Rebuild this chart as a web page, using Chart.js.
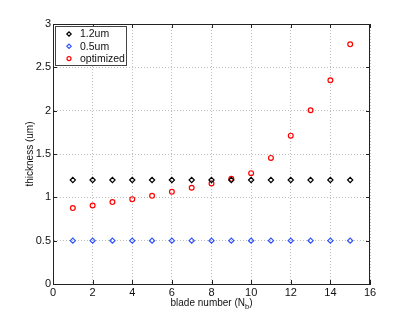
<!DOCTYPE html>
<html>
<head>
<meta charset="utf-8">
<script src="https://cdn.jsdelivr.net/npm/chart.js@4.4.0/dist/chart.umd.min.js"></script>
<style>
  html, body { margin: 0; padding: 0; background: #fff; }
  #wrap { width: 409px; height: 320px; }
</style>
</head>
<body>
<div id="wrap"><canvas id="c"></canvas></div>
<script>
// ---- data ----
const blades    = [1, 2, 3, 4, 5, 6, 7, 8, 9, 10, 11, 12, 13, 14, 15];
const thick12   = [1.2, 1.2, 1.2, 1.2, 1.2, 1.2, 1.2, 1.2, 1.2, 1.2, 1.2, 1.2, 1.2, 1.2, 1.2];
const thick05   = [0.5, 0.5, 0.5, 0.5, 0.5, 0.5, 0.5, 0.5, 0.5, 0.5, 0.5, 0.5, 0.5, 0.5, 0.5];
const optimized = [0.876, 0.906, 0.945, 0.979, 1.017, 1.063, 1.11, 1.16, 1.213, 1.279, 1.455, 1.712, 2.005, 2.35, 2.765];
const xTicks    = [0, 2, 4, 6, 8, 10, 12, 14, 16];
const yTicks    = [0, 0.5, 1, 1.5, 2, 2.5, 3];
const seriesNames = ['1.2um', '0.5um', 'optimized'];

const FONT = 'Liberation Sans, Arial, Helvetica, sans-serif';

const pts = ys => blades.map((b, i) => ({x: b, y: ys[i]}));

// frame, inside ticks, legend box, x title with subscript
const extras = {
  id: 'extras',
  afterDraw(chart) {
    const {ctx, chartArea: a, scales: {x, y}} = chart;
    ctx.save();
    // top / right frame
    ctx.strokeStyle = '#222';
    ctx.lineWidth = 1;
    ctx.beginPath();
    ctx.moveTo(a.left, a.top + 0.5); ctx.lineTo(a.right, a.top + 0.5);
    ctx.moveTo(a.right - 0.5, a.top); ctx.lineTo(a.right - 0.5, a.bottom);
    ctx.stroke();
    // inside tick marks
    ctx.beginPath();
    xTicks.forEach(v => {
      const px = Math.round(x.getPixelForValue(v)) + 0.5;
      ctx.moveTo(px, a.bottom); ctx.lineTo(px, a.bottom - 4);
      ctx.moveTo(px, a.top); ctx.lineTo(px, a.top + 4);
    });
    yTicks.forEach(v => {
      const py = Math.round(y.getPixelForValue(v)) + 0.5;
      ctx.moveTo(a.left, py); ctx.lineTo(a.left + 4, py);
      ctx.moveTo(a.right, py); ctx.lineTo(a.right - 4, py);
    });
    ctx.stroke();

    // legend
    const lx = a.left + 2, ly = a.top + 2, lw = 71, lh = 39;
    ctx.fillStyle = '#fff';
    ctx.fillRect(lx, ly, lw, lh);
    ctx.strokeStyle = '#444';
    ctx.strokeRect(lx + 0.5, ly + 0.5, lw, lh);
    ctx.font = '10.5px ' + FONT;
    ctx.textBaseline = 'middle';
    chart.data.datasets.forEach((ds, i) => {
      const cy = ly + 8 + i * 12.3, mx = lx + 14;
      ctx.strokeStyle = ds.borderColor;
      ctx.lineWidth = ds.borderWidth;
      ctx.beginPath();
      if (ds.pointStyle === 'circle') {
        ctx.arc(mx, cy, 2, 0, Math.PI * 2);
      } else {
        const r = 2.2;
        ctx.moveTo(mx, cy - r); ctx.lineTo(mx + r, cy);
        ctx.lineTo(mx, cy + r); ctx.lineTo(mx - r, cy); ctx.closePath();
      }
      ctx.stroke();
      ctx.fillStyle = '#111';
      ctx.fillText(ds.label, lx + 25, cy + 0.5);
    });

    // x title: blade number (N_b)
    const cx = (a.left + a.right) / 2, ty = 303;
    ctx.fillStyle = '#111';
    ctx.font = '10px ' + FONT;
    const t1 = 'blade number (N', t3 = ')';
    const w1 = ctx.measureText(t1).width, w3 = ctx.measureText(t3).width;
    ctx.font = '7.5px ' + FONT;
    const w2 = ctx.measureText('b').width;
    let sx = cx - (w1 + w2 + w3) / 2;
    ctx.textAlign = 'left';
    ctx.font = '10px ' + FONT;
    ctx.fillText(t1, sx, ty);
    ctx.font = '7.5px ' + FONT;
    ctx.fillText('b', sx + w1, ty + 4);
    ctx.font = '10px ' + FONT;
    ctx.fillText(t3, sx + w1 + w2, ty);
    ctx.restore();
  }
};

new Chart(document.getElementById('c'), {
  type: 'scatter',
  data: {
    datasets: [
      {label: seriesNames[0], data: pts(thick12), pointStyle: 'rectRot', pointRadius: 2.6,
       borderColor: '#000', backgroundColor: 'rgba(0,0,0,0)', borderWidth: 1.2},
      {label: seriesNames[1], data: pts(thick05), pointStyle: 'rectRot', pointRadius: 2.6,
       borderColor: '#2f52ff', backgroundColor: 'rgba(0,0,0,0)', borderWidth: 1.2},
      {label: seriesNames[2], data: pts(optimized), pointStyle: 'circle', pointRadius: 2.4,
       borderColor: '#ff0000', backgroundColor: 'rgba(0,0,0,0)', borderWidth: 1.2}
    ]
  },
  options: {
    responsive: true,
    maintainAspectRatio: false,
    animation: false,
    layout: {padding: {top: 24, right: 39, left: 0, bottom: 0}},
    plugins: {legend: {display: false}, tooltip: {enabled: false}},
    scales: {
      x: {
        type: 'linear', min: 0, max: 16,
        afterBuildTicks: s => { s.ticks = xTicks.map(v => ({value: v})); },
        afterFit: s => { s.height = 36; },
        ticks: {color: '#111', font: {family: FONT, size: 11}, padding: 2, maxRotation: 0},
        grid: {color: '#bdbdbd', drawTicks: false, tickLength: 0},
        border: {display: true, color: '#222', dash: [1, 2], width: 1}
      },
      y: {
        type: 'linear', min: 0, max: 3,
        afterBuildTicks: s => { s.ticks = yTicks.map(v => ({value: v})); },
        afterFit: s => { s.width = 53; },
        ticks: {color: '#111', font: {family: FONT, size: 11}, padding: 2,
                callback: v => String(v)},
        grid: {color: '#bdbdbd', drawTicks: false, tickLength: 0},
        border: {display: true, color: '#222', dash: [1, 2], width: 1},
        title: {display: true, text: 'thickness (um)', color: '#111',
                font: {family: FONT, size: 10}, padding: {top: 24, bottom: 0}}
      }
    }
  },
  plugins: [extras]
});
</script>
</body>
</html>
